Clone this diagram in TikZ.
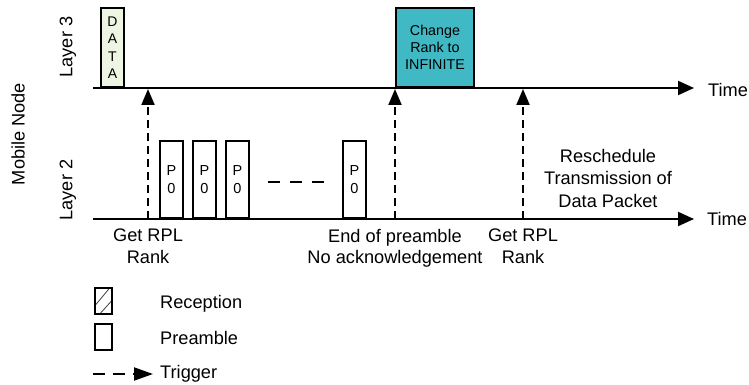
\documentclass[tikz,border=0pt]{standalone}
\usepackage{fontspec}
\setmainfont{Liberation Sans}
\usetikzlibrary{arrows.meta}
\definecolor{datafill}{HTML}{EEF5E2}
\definecolor{tealfill}{HTML}{40B9C5}
\begin{document}
\begin{tikzpicture}[x=1pt,y=-1pt,
  axis/.style={line width=2pt,-{Triangle[length=16pt,width=14pt]}},
  trig/.style={line width=2pt,dash pattern=on 8pt off 5pt,-{Triangle[length=16pt,width=13pt]}},
  pbox/.style={draw,line width=2pt,fill=white,inner sep=0pt,minimum width=23pt,minimum height=77pt,anchor=south west,align=center,font=\fontsize{14.5}{18}\selectfont},
  lbl/.style={font=\fontsize{18.2}{21.5}\selectfont,align=center,inner sep=0pt},
  legbox/.style={draw,line width=2pt,fill=white,inner sep=0pt,minimum width=17pt,minimum height=26pt,anchor=north west}]
\useasboundingbox (0,0) rectangle (749,385);

% axes
\coordinate (l3s) at (93,88);
\coordinate (l3e) at (694,88);
\coordinate (l2s) at (93,219);
\coordinate (l2e) at (694,219);
\draw[axis] (l3s) -- (l3e);
\draw[axis] (l2s) -- (l2e);
\node[lbl,anchor=west] (time3) at (708,90) {Time};
\node[lbl,anchor=west] (time2) at (707,219) {Time};

% side labels
\node[lbl,rotate=90] (layer3) at (68,47) {Layer 3};
\node[lbl,rotate=90] (layer2) at (68,190) {Layer 2};
\node[lbl,rotate=90] (mobile) at (18,134) {Mobile Node};

% layer 3 boxes
\node[pbox,fill=datafill,minimum height=79pt,font=\fontsize{14}{17.5}\selectfont] (data) at (100,88) {D\\A\\T\\A};
\node[pbox,fill=tealfill,minimum width=78pt,minimum height=79pt,font=\fontsize{14.3}{17}\selectfont] (change) at (395,88) {Change\\Rank to\\INFINITE};

% preamble boxes
\node[pbox] (p1) at (159,219) {P\\0};
\node[pbox] (p2) at (192,219) {P\\0};
\node[pbox] (p3) at (225,219) {P\\0};
\node[pbox] (p4) at (342,219) {P\\0};
\coordinate (ds) at (268,182);
\coordinate (de) at (324,182);
\draw[line width=2pt,dash pattern=on 12pt off 10pt] (ds) -- (de);

% triggers
\coordinate (t1a) at (148,219);
\coordinate (t1b) at (148,89);
\coordinate (t2a) at (395,219);
\coordinate (t2b) at (395,89);
\coordinate (t3a) at (523,219);
\coordinate (t3b) at (523,89);
\draw[trig] (t1a) -- (t1b);
\draw[trig] (t2a) -- (t2b);
\draw[trig] (t3a) -- (t3b);

% labels under layer 2
\node[lbl,anchor=north] (get1) at (148,229) {Get RPL\\Rank};
\node[lbl,anchor=north] (endp) at (395,229) {End of preamble\\No acknowledgement};
\node[lbl,anchor=north] (get2) at (523,229) {Get RPL\\Rank};
\node[lbl,anchor=north,font=\fontsize{18.2}{22.5}\selectfont] (resched) at (608,149) {Reschedule\\Transmission of\\Data Packet};

% legend
\node[legbox,path picture={
  \draw[line width=0.8pt,black!75] ([xshift=-2pt,yshift=6pt]path picture bounding box.south west) -- ([xshift=1pt,yshift=4pt]path picture bounding box.north east);
  \draw[line width=0.8pt,black!75] ([xshift=2pt,yshift=-3pt]path picture bounding box.south west) -- ([xshift=4pt,yshift=-8pt]path picture bounding box.north east);
}] (rec) at (94,287) {};
\node[legbox] (pre) at (94,323) {};
\node[lbl,anchor=base west] (rectxt) at (160,308) {Reception};
\node[lbl,anchor=base west] (pretxt) at (160,344) {Preamble};
\node[lbl,anchor=base west] (trigtxt) at (160,378) {Trigger};
\coordinate (lg1) at (93,374);
\coordinate (lg2) at (153,374);
\draw[line width=2pt,dash pattern=on 12pt off 8pt,-{Triangle[length=19pt,width=13pt]}] (lg1) -- (lg2);
\end{tikzpicture}
\end{document}
